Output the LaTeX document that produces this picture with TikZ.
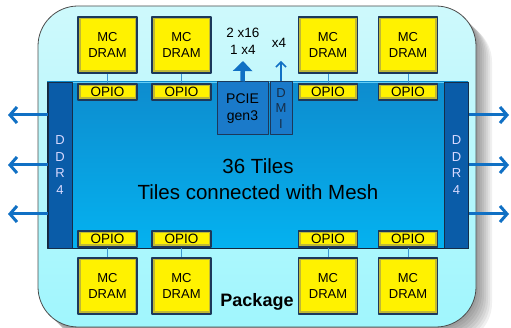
\documentclass[tikz,border=0pt]{standalone}
\usepackage{fontspec}
\setmainfont{Liberation Sans}
\usetikzlibrary{arrows.meta}

\definecolor{pkgtop}{RGB}{206,249,252}
\definecolor{pkgbot}{RGB}{160,246,253}
\definecolor{dietop}{RGB}{14,140,206}
\definecolor{diebot}{RGB}{4,178,240}
\definecolor{ddrblue}{RGB}{10,92,168}
\definecolor{pcieblue}{RGB}{26,122,202}
\definecolor{navy}{RGB}{28,56,90}
\definecolor{arrowblue}{RGB}{16,112,196}
\definecolor{wireblue}{RGB}{60,150,210}

\tikzset{
  mcbox/.style={draw=navy, line width=1.6pt, minimum width=59pt, minimum height=56pt,
    inner sep=0pt, align=center, font=\fontsize{13}{15.5}\selectfont,
    path picture={
      \fill[yellow!72!black] (path picture bounding box.south west) rectangle (path picture bounding box.north east);
      \fill[yellow] ([shift={(2.5pt,-2.5pt)}]path picture bounding box.north west) rectangle ([shift={(-2.5pt,2.5pt)}]path picture bounding box.south east);}},
  opiobox/.style={mcbox, minimum height=16pt, font=\fontsize{13.5}{15}\selectfont},
  ddrbar/.style={draw=navy!80!black, fill=ddrblue, line width=0.8pt, minimum width=24pt,
    minimum height=166pt, inner sep=0pt, align=center, text=white!85!blue,
    font=\fontsize{13}{16.5}\selectfont},
  portbox/.style={draw=navy, fill=pcieblue, line width=1pt, minimum height=53pt, inner sep=0pt,
    align=center},
  ddrarrow/.style={arrowblue, line width=3pt, -{Straight Barb[length=7pt,width=16pt]}},
  wire/.style={wireblue, line width=0.8pt}
}

\begin{document}
\begin{tikzpicture}[x=1pt, y=-1pt, line join=round]
\useasboundingbox (0,0) rectangle (511,328);

% Shadow of the package
\foreach \s in {2,4,...,16}
  \fill[black, opacity=0.06, rounded corners=40pt] (38+\s,6+\s) rectangle (476+\s,327+\s);

% Package
\draw[gray!60!black, line width=0.8pt, top color=pkgtop, bottom color=pkgbot, rounded corners=40pt]
  (38,6) rectangle (476,327);

% Die with the tiles
\node[draw=navy!70!black, line width=0.8pt, top color=dietop, bottom color=diebot,
  minimum width=421pt, minimum height=166pt, inner sep=0pt] (die) at (257.5,165) {};
\draw[cyan!60!white, line width=1pt] ([shift={(1pt,-1pt)}]die.north west) -- ([shift={(-1pt,-1pt)}]die.north east);
\node[align=center, font=\fontsize{20.5}{26}\selectfont] (tiles) at (258,179)
  {36 Tiles\\Tiles connected with Mesh};

% DDR4 channels
\node[ddrbar] (ddrL) at (60,165) {D\\D\\R\\4};
\node[ddrbar] (ddrR) at (456.5,165) {D\\D\\R\\4};
\foreach \y [count=\i] in {115,165,214} {
  \coordinate (tipL\i) at (8,\y);
  \coordinate (tipR\i) at (509,\y);
  \draw[ddrarrow] (ddrL.west |- tipL\i) -- (tipL\i);
  \draw[ddrarrow] (ddrR.east |- tipR\i) -- (tipR\i);
}

% MCDRAM stacks and their OPIO links
\foreach \x [count=\i] in {107.5,181.5,328,408} {
  \node[mcbox] (mcT\i) at (\x,45) {MC\\DRAM};
  \node[opiobox] (opT\i) at (\x,92) {OPIO};
  \draw[wire] (mcT\i.south) -- (opT\i.north);
  \node[opiobox] (opB\i) at (\x,239) {OPIO};
  \node[mcbox] (mcB\i) at (\x,286) {MC\\DRAM};
  \draw[wire] (opB\i.south) -- (mcB\i.north);
}

% PCIe and DMI
\node[portbox, minimum width=51pt, font=\fontsize{14}{17}\selectfont] (pcie) at (242.5,108.5) {PCIE\\gen3};
\node[portbox, minimum width=22pt, text=navy!80!black, font=\fontsize{13}{15.5}\selectfont] (dmi) at (281,108.5) {D\\M\\I};
\node[align=center, font=\fontsize{13.5}{17}\selectfont] (lanes) at (243,41) {2 x16\\1 x4};
\node[font=\fontsize{13.5}{16}\selectfont] (dmilanes) at (279,43) {x4};
\coordinate (pcietip) at (243,61);
\coordinate (dmitip) at (281,61);
\draw[arrowblue, line width=4.5pt, -{Triangle[length=10pt,width=19pt]}] (pcie.north) -- (pcietip);
\draw[arrowblue, line width=1.5pt, -{Straight Barb[length=5pt,width=10pt]}] (dmi.north) -- (dmitip);

% Package label
\node[font=\bfseries\fontsize{18}{20}\selectfont] (pkg) at (257,302) {Package};

\end{tikzpicture}
\end{document}
